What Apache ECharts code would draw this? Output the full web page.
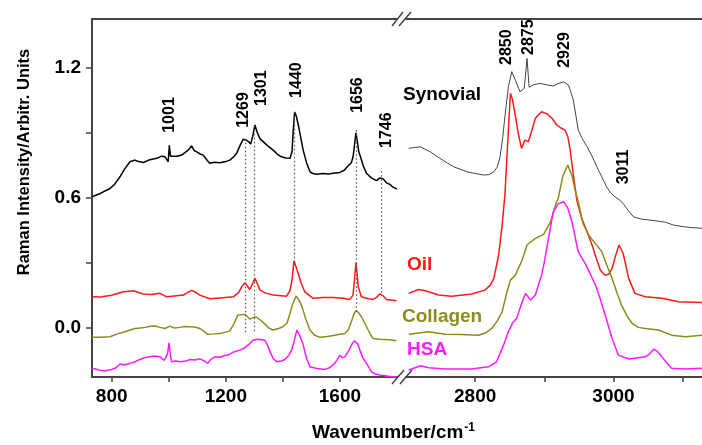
<!DOCTYPE html>
<html>
<head>
<meta charset="utf-8">
<script src="https://cdn.jsdelivr.net/npm/echarts@6.0.0/dist/echarts.min.js"></script>
<style>
  html, body { margin: 0; padding: 0; background: #fff; }
  #chart { width: 702px; height: 445px; }
</style>
</head>
<body>
<div id="chart"></div>
<script>
// ---- left panel (fingerprint region) ----
var synLeftX = [731, 760, 794, 810, 829, 845, 864, 880, 895, 911, 930, 958, 975, 987, 998, 1002, 1006, 1012, 1030, 1045, 1060, 1070, 1080, 1090, 1098, 1110, 1121, 1135, 1144, 1160, 1179, 1200, 1214, 1226, 1238, 1250, 1261, 1270, 1280, 1287, 1294, 1302, 1310, 1320, 1331, 1345, 1366, 1380, 1395, 1410, 1425, 1432, 1436, 1441, 1447, 1454, 1462, 1471, 1483, 1495, 1505, 1518, 1540, 1560, 1576, 1600, 1615, 1629, 1640, 1646, 1651, 1656, 1661, 1666, 1672, 1682, 1693, 1710, 1728, 1740, 1746, 1752, 1763, 1775, 1785, 1792, 1800];
var synLeftY = [0.603, 0.618, 0.641, 0.66, 0.695, 0.73, 0.764, 0.772, 0.765, 0.761, 0.772, 0.78, 0.79, 0.787, 0.764, 0.84, 0.79, 0.787, 0.79, 0.795, 0.81, 0.82, 0.838, 0.815, 0.81, 0.8, 0.795, 0.77, 0.757, 0.762, 0.76, 0.765, 0.772, 0.785, 0.803, 0.84, 0.868, 0.865, 0.857, 0.846, 0.88, 0.934, 0.9, 0.87, 0.857, 0.84, 0.818, 0.8, 0.787, 0.782, 0.78, 0.81, 0.9, 0.994, 0.975, 0.935, 0.88, 0.818, 0.76, 0.718, 0.71, 0.707, 0.71, 0.708, 0.711, 0.715, 0.725, 0.746, 0.76, 0.787, 0.84, 0.898, 0.86, 0.81, 0.787, 0.745, 0.711, 0.69, 0.677, 0.69, 0.698, 0.685, 0.667, 0.66, 0.648, 0.641, 0.638];

var oilLeftX = [731, 760, 800, 841, 876, 911, 940, 969, 993, 1020, 1051, 1065, 1080, 1095, 1109, 1144, 1180, 1226, 1245, 1257, 1267, 1276, 1284, 1293, 1302, 1311, 1320, 1340, 1366, 1413, 1425, 1432, 1439, 1446, 1454, 1465, 1477, 1506, 1540, 1576, 1610, 1635, 1646, 1651, 1656, 1660, 1664, 1675, 1700, 1716, 1730, 1740, 1746, 1752, 1763, 1798];
var oilLeftY = [0.141, 0.14, 0.148, 0.164, 0.169, 0.154, 0.152, 0.157, 0.141, 0.145, 0.149, 0.16, 0.171, 0.162, 0.149, 0.132, 0.136, 0.141, 0.16, 0.19, 0.206, 0.19, 0.175, 0.2, 0.226, 0.2, 0.172, 0.158, 0.149, 0.144, 0.17, 0.22, 0.307, 0.28, 0.249, 0.2, 0.164, 0.134, 0.138, 0.138, 0.134, 0.129, 0.149, 0.22, 0.298, 0.25, 0.187, 0.141, 0.132, 0.129, 0.14, 0.155, 0.16, 0.145, 0.129, 0.123];

var colLeftX = [731, 760, 794, 820, 847, 865, 882, 900, 917, 935, 952, 970, 987, 1004, 1020, 1039, 1055, 1074, 1090, 1109, 1125, 1137, 1160, 1179, 1200, 1214, 1228, 1242, 1255, 1267, 1275, 1284, 1295, 1305, 1320, 1337, 1350, 1365, 1385, 1400, 1415, 1425, 1435, 1446, 1457, 1467, 1480, 1495, 1510, 1530, 1555, 1582, 1600, 1617, 1630, 1642, 1650, 1656, 1665, 1675, 1687, 1699, 1710, 1716, 1740, 1760, 1780, 1798];
var colLeftY = [-0.046, -0.045, -0.043, -0.03, -0.02, -0.012, -0.005, -0.003, 0, 0.005, 0.006, 0, -0.005, 0.006, -0.003, 0, 0.004, 0.003, 0.002, -0.005, -0.02, -0.032, -0.03, -0.028, -0.022, -0.016, 0.015, 0.057, 0.058, 0.06, 0.05, 0.038, 0.045, 0.049, 0.035, 0.015, -0.002, -0.012, -0.005, 0.003, 0.02, 0.065, 0.11, 0.144, 0.125, 0.095, 0.04, -0.012, -0.035, -0.046, -0.042, -0.036, -0.032, -0.028, -0.01, 0.034, 0.065, 0.077, 0.068, 0.049, 0.02, -0.012, -0.04, -0.051, -0.055, -0.056, -0.058, -0.062];

var hsaLeftX = [731, 760, 777, 795, 812, 829, 845, 864, 880, 899, 915, 934, 950, 969, 985, 990, 996, 1001, 1005, 1010, 1025, 1039, 1060, 1075, 1092, 1110, 1125, 1137, 1150, 1162, 1180, 1195, 1207, 1225, 1249, 1265, 1280, 1295, 1312, 1325, 1337, 1347, 1355, 1367, 1379, 1395, 1407, 1420, 1431, 1440, 1449, 1458, 1470, 1482, 1495, 1520, 1547, 1565, 1582, 1590, 1600, 1608, 1617, 1630, 1642, 1650, 1656, 1662, 1670, 1680, 1693, 1711, 1725, 1740, 1770, 1798];
var hsaLeftY = [-0.189, -0.198, -0.2, -0.196, -0.189, -0.169, -0.172, -0.166, -0.16, -0.148, -0.14, -0.136, -0.132, -0.136, -0.152, -0.159, -0.12, -0.071, -0.12, -0.159, -0.155, -0.159, -0.155, -0.148, -0.151, -0.145, -0.155, -0.166, -0.145, -0.136, -0.138, -0.13, -0.128, -0.115, -0.105, -0.095, -0.08, -0.059, -0.055, -0.057, -0.059, -0.085, -0.113, -0.145, -0.159, -0.155, -0.148, -0.13, -0.105, -0.06, -0.012, -0.035, -0.074, -0.14, -0.182, -0.19, -0.194, -0.185, -0.166, -0.15, -0.128, -0.14, -0.136, -0.11, -0.077, -0.062, -0.059, -0.075, -0.105, -0.14, -0.166, -0.205, -0.215, -0.22, -0.226, -0.229];

// ---- right panel (C-H stretch region) ----
var synRightX = [2704, 2712, 2721, 2735, 2749, 2760, 2769, 2788, 2800, 2812, 2820, 2827, 2832, 2836, 2840, 2843, 2848, 2853, 2858, 2865, 2871, 2875, 2878, 2885, 2894, 2905, 2913, 2920, 2928, 2935, 2939, 2942, 2946, 2949, 2955, 2962, 2969, 2976, 2983, 2990, 2996, 3002, 3008, 3014, 3021, 3029, 3040, 3053, 3065, 3075, 3087, 3100, 3115, 3128];
var synRightY = [0.826, 0.83, 0.833, 0.81, 0.78, 0.758, 0.741, 0.718, 0.71, 0.703, 0.705, 0.718, 0.74, 0.787, 0.88, 0.972, 1.11, 1.18, 1.141, 1.087, 1.103, 1.241, 1.108, 1.12, 1.126, 1.118, 1.114, 1.125, 1.133, 1.118, 1.08, 1.049, 0.97, 0.91, 0.87, 0.833, 0.79, 0.741, 0.695, 0.649, 0.62, 0.603, 0.59, 0.572, 0.54, 0.51, 0.5, 0.495, 0.49, 0.485, 0.472, 0.465, 0.46, 0.457];

var oilRightX = [2704, 2718, 2728, 2747, 2766, 2795, 2814, 2822, 2827, 2834, 2839, 2843, 2847, 2851, 2854, 2858, 2862, 2867, 2872, 2877, 2882, 2887, 2896, 2904, 2911, 2918, 2924, 2930, 2934, 2937, 2942, 2947, 2954, 2962, 2969, 2975, 2981, 2988, 2993, 2998, 3003, 3008, 3014, 3022, 3031, 3046, 3070, 3094, 3128];
var oilRightY = [0.157, 0.175, 0.169, 0.149, 0.144, 0.154, 0.172, 0.195, 0.226, 0.334, 0.472, 0.61, 0.85, 1.08, 1.05, 0.98, 0.9, 0.826, 0.864, 0.857, 0.91, 0.965, 0.995, 0.985, 0.965, 0.934, 0.92, 0.91, 0.88, 0.826, 0.703, 0.587, 0.503, 0.44, 0.38, 0.32, 0.264, 0.241, 0.245, 0.272, 0.33, 0.38, 0.341, 0.226, 0.157, 0.141, 0.134, 0.118, 0.115];

var colRightX = [2704, 2733, 2757, 2780, 2805, 2815, 2824, 2832, 2839, 2846, 2851, 2858, 2868, 2875, 2887, 2899, 2909, 2916, 2920, 2927, 2934, 2940, 2944, 2949, 2956, 2964, 2973, 2983, 2990, 2998, 3005, 3012, 3020, 3027, 3036, 3046, 3065, 3084, 3104, 3128];
var colRightY = [-0.032, -0.02, -0.032, -0.033, -0.036, -0.025, -0.005, 0.03, 0.072, 0.164, 0.218, 0.241, 0.311, 0.38, 0.411, 0.429, 0.487, 0.564, 0.595, 0.7, 0.749, 0.7, 0.641, 0.58, 0.48, 0.426, 0.39, 0.35, 0.29, 0.226, 0.16, 0.1, 0.05, 0.018, 0.0, -0.005, -0.012, -0.036, -0.043, -0.036];

var hsaRightX = [2704, 2721, 2733, 2757, 2795, 2819, 2831, 2841, 2848, 2854, 2860, 2868, 2873, 2880, 2887, 2896, 2900, 2906, 2913, 2920, 2928, 2934, 2940, 2949, 2959, 2966, 2974, 2981, 2988, 2998, 3007, 3022, 3046, 3053, 3058, 3063, 3068, 3076, 3084, 3104, 3128];
var hsaRightY = [-0.197, -0.177, -0.186, -0.192, -0.192, -0.182, -0.159, -0.082, -0.02, 0.02, 0.042, 0.118, 0.157, 0.126, 0.149, 0.241, 0.3, 0.411, 0.533, 0.57, 0.58, 0.55, 0.487, 0.349, 0.295, 0.25, 0.195, 0.13, 0.057, -0.051, -0.128, -0.146, -0.136, -0.12, -0.1, -0.11, -0.128, -0.16, -0.189, -0.192, -0.189];

// dotted drop lines (wavenumber, top, bottom)
var dropX = [1269, 1301, 1440, 1656, 1746];
var dropTop = [0.87, 0.93, 0.99, 0.91, 0.72];
var dropBottom = [-0.025, -0.025, 0.30, 0.07, 0.16];

// peak annotations, anchored at data coordinates
var peakLeftText = ['1001', '1269', '1301', '1440', '1656', '1746'];
var peakLeftX = [1004, 1261, 1327, 1449, 1663, 1764];
var peakLeftY = [0.98, 1.003, 1.104, 1.141, 1.072, 0.91];
var peakRightText = ['2850', '2875', '2929', '3011'];
var peakRightX = [2846, 2877, 2929, 3014];
var peakRightY = [1.293, 1.339, 1.28, 0.74];

var xTicksLeft = [800, 1000, 1200, 1400, 1600];
var xLabelsLeft = [800, 1200, 1600];
var xTicksRight = [2800, 2900, 3000, 3100];
var xLabelsRight = [2800, 3000];
var yTicks = [0, 0.3, 0.6, 0.9, 1.2];
var yLabels = [0, 0.6, 1.2];

var FONT = '"Liberation Sans", Arial, sans-serif';
var AX = '#444';

function zip(xs, ys) {
  return xs.map(function (x, i) { return [x, ys[i]]; });
}

function bottomAxis(grid, min, max, ticks, labels) {
  return {
    type: 'value', gridIndex: grid, position: 'bottom', min: min, max: max,
    axisLine: { show: true, onZero: false, lineStyle: { color: AX, width: 2 } },
    axisTick: { show: true, customValues: ticks, length: 5, lineStyle: { color: AX, width: 1.5 } },
    axisLabel: {
      customValues: labels, margin: 10, fontSize: 19, fontWeight: 'bold', color: '#000', fontFamily: FONT,
      formatter: function (v) { return String(v); }
    },
    splitLine: { show: false }
  };
}
function topAxis(grid, min, max) {
  return {
    type: 'value', gridIndex: grid, position: 'top', min: min, max: max,
    axisLine: { show: true, onZero: false, lineStyle: { color: AX, width: 2 } },
    axisTick: { show: false }, axisLabel: { show: false }, splitLine: { show: false }
  };
}
function line(name, data, color, width, xi) {
  return {
    name: name, type: 'line', data: data, xAxisIndex: xi, yAxisIndex: xi < 2 ? 0 : 1,
    symbol: 'none', lineStyle: { color: color, width: width }, z: 3
  };
}
function peaks(texts, xs, ys, xi) {
  return {
    type: 'scatter', xAxisIndex: xi, yAxisIndex: xi < 2 ? 0 : 1, symbolSize: 0,
    data: zip(xs, ys), z: 5, itemStyle: { opacity: 1 },
    label: {
      show: true, position: 'inside', rotate: 90, color: '#000', opacity: 1,
      fontSize: 16, fontWeight: 'bold', fontFamily: FONT,
      formatter: function (p) { return texts[p.dataIndex]; }
    }
  };
}

var chart = echarts.init(document.getElementById('chart'));

var synLeft = line('Synovial', zip(synLeftX, synLeftY), '#000', 1.5, 0);
synLeft.markLine = {
  silent: true, symbol: ['none', 'none'], label: { show: false },
  lineStyle: { type: [1.5, 2.5], color: '#555', width: 1.2 },
  data: dropX.map(function (x, i) { return [{ coord: [x, dropTop[i]] }, { coord: [x, dropBottom[i]] }]; })
};

function txt(text, x, y, color) {
  return {
    type: 'text', x: x, y: y, z: 10,
    style: { text: text, fill: color, font: 'bold 19px ' + FONT, textAlign: 'left', textVerticalAlign: 'middle' }
  };
}

chart.setOption({
  animation: false,
  backgroundColor: '#fff',
  grid: [
    { left: 92, top: 19, width: 305, height: 358 },
    { left: 406, top: 19, right: 0, height: 358 }
  ],
  xAxis: [
    bottomAxis(0, 731, 1800, xTicksLeft, xLabelsLeft),
    topAxis(0, 731, 1800),
    bottomAxis(1, 2700, 3128, xTicksRight, xLabelsRight),
    topAxis(1, 2700, 3128)
  ],
  yAxis: [
    {
      type: 'value', gridIndex: 0, min: -0.229, max: 1.423,
      axisLine: { show: true, onZero: false, lineStyle: { color: AX, width: 2 } },
      axisTick: { show: true, customValues: yTicks, length: 6, lineStyle: { color: AX, width: 1.5 } },
      axisLabel: {
        customValues: yLabels, margin: 11, fontSize: 19, fontWeight: 'bold', color: '#000', fontFamily: FONT,
        formatter: function (v) { return v.toFixed(1); }
      },
      splitLine: { show: false }
    },
    { type: 'value', gridIndex: 1, min: -0.229, max: 1.423, show: false, splitLine: { show: false } }
  ],
  series: [
    synLeft,
    line('Oil', zip(oilLeftX, oilLeftY), '#ff1a1a', 1.5, 0),
    line('Collagen', zip(colLeftX, colLeftY), '#8c8c1c', 1.5, 0),
    line('HSA', zip(hsaLeftX, hsaLeftY), '#ff1aff', 1.5, 0),
    line('Synovial', zip(synRightX, synRightY), '#444', 1, 2),
    line('Oil', zip(oilRightX, oilRightY), '#ff1a1a', 1.5, 2),
    line('Collagen', zip(colRightX, colRightY), '#8c8c1c', 1.5, 2),
    line('HSA', zip(hsaRightX, hsaRightY), '#ff1aff', 1.5, 2),
    peaks(peakLeftText, peakLeftX, peakLeftY, 0),
    peaks(peakRightText, peakRightX, peakRightY, 2)
  ],
  graphic: [
    // axis break marks
    { type: 'line', shape: { x1: 392, y1: 26, x2: 403, y2: 12 }, style: { stroke: AX, lineWidth: 1.5 } },
    { type: 'line', shape: { x1: 399, y1: 26, x2: 411, y2: 12 }, style: { stroke: AX, lineWidth: 1.5 } },
    { type: 'line', shape: { x1: 392, y1: 384, x2: 404, y2: 370 }, style: { stroke: AX, lineWidth: 1.5 } },
    { type: 'line', shape: { x1: 400, y1: 384, x2: 412, y2: 370 }, style: { stroke: AX, lineWidth: 1.5 } },
    txt('Synovial', 403, 95, '#000'),
    txt('Oil', 407, 265, '#ff1a1a'),
    txt('Collagen', 402, 317, '#8c8c1c'),
    txt('HSA', 407, 350, '#ff1aff'),
    {
      type: 'text', x: 24, y: 162, rotation: Math.PI / 2,
      style: { text: 'Raman Intensity/Arbitr. Units', fill: '#000', font: 'bold 16.5px ' + FONT, textAlign: 'center', textVerticalAlign: 'middle' }
    },
    {
      type: 'text', x: 312, y: 433,
      style: {
        text: '{a|Wavenumber/cm}{b|-1}', textVerticalAlign: 'middle', textAlign: 'left',
        rich: {
          a: { fontSize: 19, fontWeight: 'bold', fontFamily: FONT, color: '#000', lineHeight: 22 },
          b: { fontSize: 12, fontWeight: 'bold', fontFamily: FONT, color: '#000', lineHeight: 22, verticalAlign: 'top', padding: [0, 0, 8, 1] }
        }
      }
    }
  ]
});
</script>
</body>
</html>
